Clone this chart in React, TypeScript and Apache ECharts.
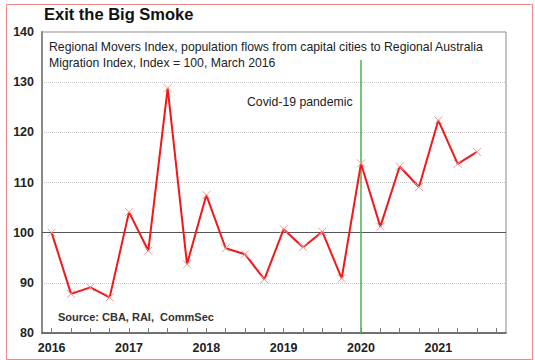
import React, { useEffect, useRef } from "react";
import * as echarts from "echarts";

const years = ["2016", "2017", "2018", "2019", "2020", "2021"];
const quarters: string[] = [];
years.forEach((y) => {
  for (let q = 1; q <= 4; q++) quarters.push(`${y} Q${q}`);
});
const moversIndex = [
  100, 87.8, 89.1, 87.1, 104.1, 96.4, 128.8, 93.7, 107.5, 96.9, 95.7, 90.7,
  100.7, 97.1, 100.2, 90.9, 113.8, 101.2, 113.2, 109.1, 122.4, 113.7, 116.1,
];
const yTicks = [80, 90, 100, 110, 120, 130, 140];
const covidQuarter = "2020 Q1";
const covidTop = 134.4;
const baseline = 100;

const FONT = "'Liberation Sans', Arial, sans-serif";

export default function App() {
  const ref = useRef<HTMLDivElement>(null);
  useEffect(() => {
    if (!ref.current) return;
    const chart = echarts.init(ref.current, undefined, { renderer: "svg" });
    chart.setOption({
      animation: false,
      backgroundColor: "#ffffff",
      textStyle: { fontFamily: FONT },
      grid: {
        left: 42,
        right: 29,
        top: 32,
        bottom: 27,
        show: true,
        borderColor: "#8a8a8a",
        borderWidth: 1,
        backgroundColor: "transparent",
      },
      xAxis: {
        type: "category",
        data: quarters,
        boundaryGap: true,
        axisLine: { show: true, lineStyle: { color: "#555", width: 1.5 } },
        axisTick: {
          show: true,
          alignWithLabel: true,
          interval: 0,
          inside: true,
          length: 5,
          lineStyle: { color: "#777" },
        },
        axisLabel: {
          interval: (i: number) => i % 4 === 0,
          formatter: (v: string) => v.slice(0, 4),
          fontWeight: "bold",
          fontSize: 12.5,
          color: "#222",
          fontFamily: FONT,
          margin: 8,
        },
        splitLine: { show: false },
      },
      yAxis: {
        type: "value",
        min: yTicks[0],
        max: yTicks[yTicks.length - 1],
        interval: 10,
        axisLine: { show: true, lineStyle: { color: "#8a8a8a", width: 2 } },
        axisTick: { show: false },
        axisLabel: {
          fontWeight: "bold",
          fontSize: 12.5,
          color: "#222",
          fontFamily: FONT,
          margin: 8,
        },
        splitLine: {
          show: true,
          lineStyle: { color: "#c8c8c8", type: "dotted", width: 1 },
        },
      },
      series: [
        {
          type: "line",
          data: moversIndex,
          symbol: "path://M0,0L10,10M10,0L0,10",
          symbolSize: 8,
          showAllSymbol: true,
          lineStyle: { color: "#f01818", width: 2 },
          itemStyle: {
            color: "none",
            borderColor: "#f29a9a",
            borderWidth: 1,
          },
          z: 5,
          markLine: {
            silent: true,
            symbol: "none",
            label: { show: false },
            data: [
              {
                yAxis: baseline,
                lineStyle: { color: "#555", type: "solid", width: 1.2 },
              },
              [
                {
                  coord: [covidQuarter, covidTop],
                  lineStyle: { color: "#4caf50", type: "solid", width: 1.5 },
                },
                { coord: [covidQuarter, yTicks[0]] },
              ],
            ],
          },
        },
      ],
      graphic: [
        {
          type: "rect",
          left: 4,
          top: 2,
          shape: { width: 526, height: 355 },
          style: { fill: "none", stroke: "#f08a8a", lineWidth: 1 },
          silent: true,
        },
        {
          type: "text",
          left: 44,
          top: 5,
          style: {
            text: "Exit the Big Smoke",
            fontSize: 16.5,
            fontWeight: "bold",
            fill: "#111",
            fontFamily: FONT,
          },
        },
        {
          type: "text",
          left: 49,
          top: 39,
          style: {
            text:
              "Regional Movers Index, population flows from capital cities to Regional Australia\nMigration Index, Index = 100, March 2016",
            fontSize: 12.25,
            lineHeight: 16,
            fill: "#222",
            fontFamily: FONT,
          },
        },
        {
          type: "text",
          left: 247,
          top: 96,
          style: {
            text: "Covid-19 pandemic",
            fontSize: 12.25,
            fill: "#222",
            fontFamily: FONT,
          },
        },
        {
          type: "text",
          left: 58,
          top: 311,
          style: {
            text: "Source: CBA, RAI,  CommSec",
            fontSize: 11,
            fontWeight: "bold",
            fill: "#333",
            fontFamily: FONT,
          },
        },
      ],
    });
    return () => chart.dispose();
  }, []);
  return (
    <div
      ref={ref}
      style={{ position: "fixed", left: 0, top: 0, width: 535, height: 360 }}
    />
  );
}
